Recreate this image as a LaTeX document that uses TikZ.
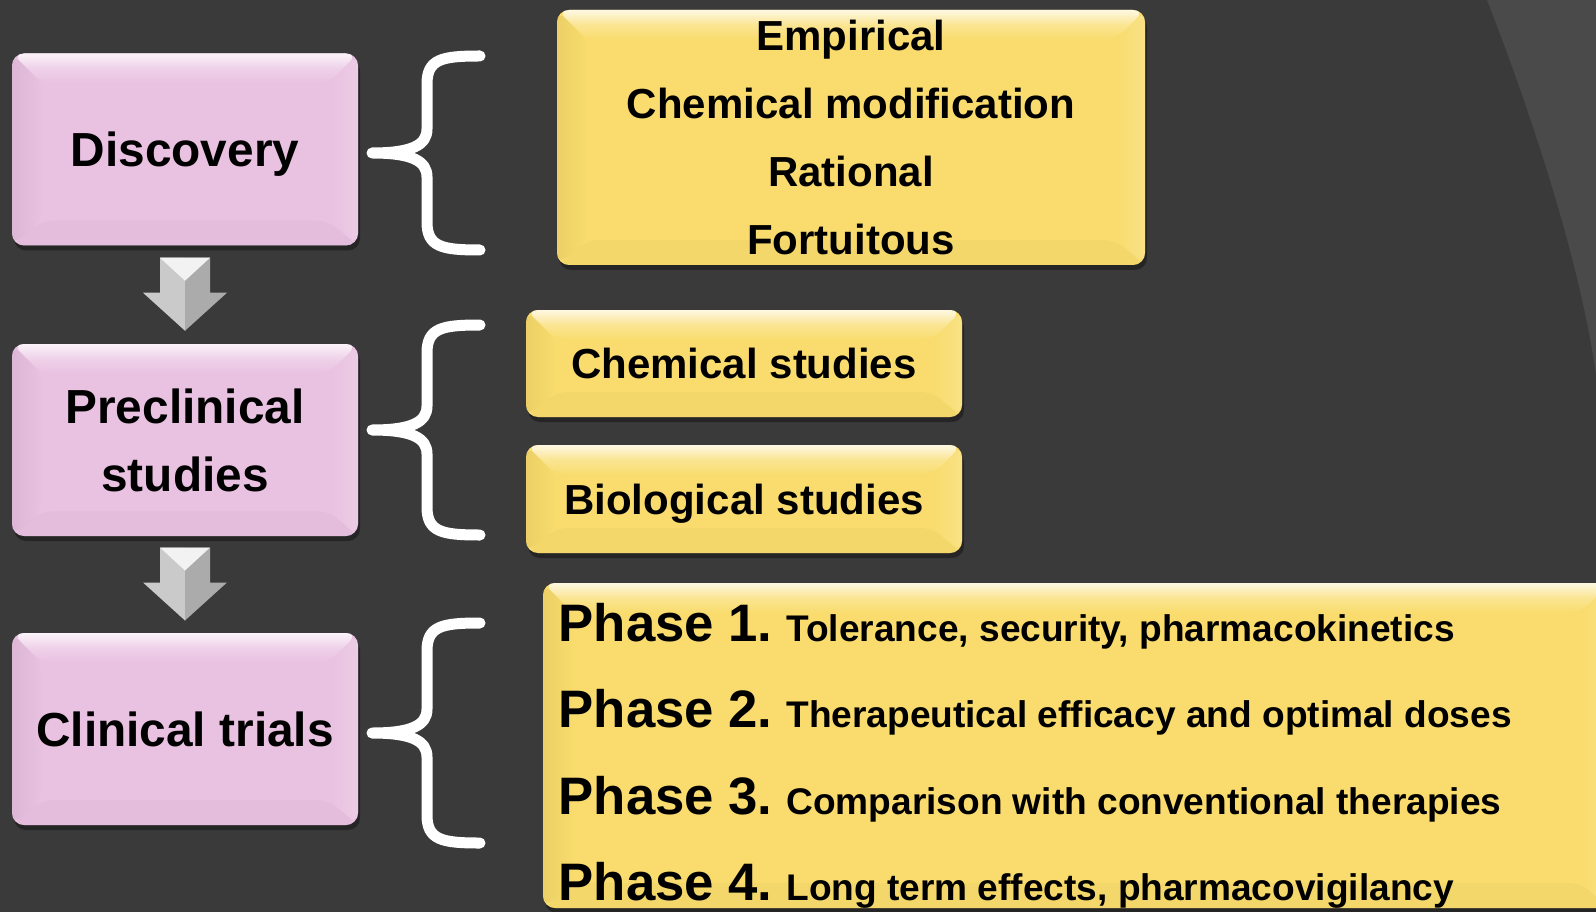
\documentclass[tikz,border=0pt]{standalone}
\usepackage{fontspec}
\setmainfont{Liberation Sans}
\usetikzlibrary{calc,shadows}

\definecolor{slate}{HTML}{3A3A3A}
\definecolor{slatelight}{HTML}{4A4A4A}
\definecolor{orchid}{HTML}{E9C1E1}
\definecolor{butter}{HTML}{F9DC6D}
\definecolor{steellight}{HTML}{CACACA}
\definecolor{steeldark}{HTML}{ABABAB}

\newcommand\fsize[2]{\fontsize{#1}{#2}\selectfont\bfseries}

% white curly bracket, tip just right of a stage box
\newcommand\curly[3]{%
  \draw[curlystroke, shift={($(#1.east)+(14,#2)$)}]
    (108,-#3) .. controls (70,-#3) and (55,-#3+3) .. (55,-#3+28)
    -- (55,-24) .. controls (55,-8) and (40,0) .. (0,0)
    .. controls (40,0) and (55,8) .. (55,24)
    -- (55,#3-28) .. controls (55,#3-3) and (70,#3) .. (108,#3);}

\tikzset{
  bevel/.style={path picture={
    \coordinate (nw) at (path picture bounding box.north west);
    \coordinate (ne) at (path picture bounding box.north east);
    \coordinate (sw) at (path picture bounding box.south west);
    \coordinate (se) at (path picture bounding box.south east);
    \shade[top color=#1!20!white, bottom color=#1, middle color=#1!75!white]
      (nw) -- (ne) -- ($(ne)+(-30,30)$) -- ($(nw)+(30,30)$) -- cycle;
    \shade[left color=#1!85!black, right color=#1, opacity=.35]
      (nw) -- ($(nw)+(30,30)$) -- ($(sw)+(30,-25)$) -- (sw) -- cycle;
    \shade[right color=#1!50!white, left color=#1, opacity=.35]
      (ne) -- ($(ne)+(-30,30)$) -- ($(se)+(-30,-25)$) -- (se) -- cycle;
    \fill[#1!94!black, opacity=.35]
      (sw) -- ($(sw)+(30,-25)$) -- ($(se)+(-30,-25)$) -- (se) -- cycle;
  }},
  box/.style={rectangle, rounded corners=1.2mm, inner sep=0pt, outer sep=0pt,
    align=center, fill=#1, bevel=#1, text depth=0pt,
    drop shadow={shadow xshift=.2mm, shadow yshift=-.5mm, opacity=.35, fill=black}},
  stage/.style={box=orchid, minimum width=34.6mm, minimum height=19.2mm,
    font={\fsize{13.6}{19.3}}},
  detail/.style={box=butter, font={\fsize{11.95}{19.35}}},
  curlystroke/.style={white, line width=1.1mm, line cap=round, line join=round},
}

\begin{document}
\begin{tikzpicture}[x=0.1mm, y=-0.1mm]
  \useasboundingbox (0,0) rectangle (1596,912);
  \fill[slate] (0,0) rectangle (1596,912);
  \fill[slatelight] (1487,0) .. controls (1530,110) and (1580,260) .. (1596,375)
    -- (1596,0) -- cycle;

  % stages
  \node[stage] (disc) at (185,149.5) {Discovery};
  \node[stage] (precl) at (185,440) {Preclinical\\studies};
  \node[stage] (clin) at (185,729) {Clinical trials};

  % block arrows between the stages
  \foreach \a/\b in {disc/precl, precl/clin}{
    \begin{scope}[shift={($(\a.south)!.5!(\b.north)$)}]
      \fill[steellight] (-25,-37) -- (0,-37) -- (0,36) -- (-42,-2) -- (-25,-2) -- cycle;
      \fill[steeldark] (25,-37) -- (0,-37) -- (0,36) -- (42,-2) -- (25,-2) -- cycle;
      \fill[white!90!gray] (-25,-37) -- (25,-37) -- (0,-14) -- cycle;
    \end{scope}
  }

  \curly{disc}{3.5}{97}
  \curly{precl}{-10}{105}
  \curly{clin}{4}{110}

  % details
  \node[detail, minimum width=58.8mm, minimum height=25.5mm]
    (emp) at (851,137.5) {Empirical\\Chemical modification\\Rational\\Fortuitous};
  \node[detail, minimum width=43.6mm, minimum height=10.7mm] (chem) at (744,363.5) {Chemical studies};
  \node[detail, minimum width=43.6mm, minimum height=10.8mm] (bio) at (744,499) {Biological studies};
  \node[detail, minimum width=106.7mm, minimum height=32.5mm] (phases) at (1076.5,745.5) {};

  \foreach \n/\txt in {1/{Tolerance, security, pharmacokinetics},
                       2/{Therapeutical efficacy and optimal doses},
                       3/{Comparison with conventional therapies},
                       4/{Long term effects, pharmacovigilancy}}{
    \node[anchor=base west, inner sep=0pt, font={\fsize{10.55}{12}}]
      (ph\n) at (558,{641+86.5*(\n-1)}) {{\fsize{15}{18}Phase \n.} \txt};
  }
\end{tikzpicture}
\end{document}
